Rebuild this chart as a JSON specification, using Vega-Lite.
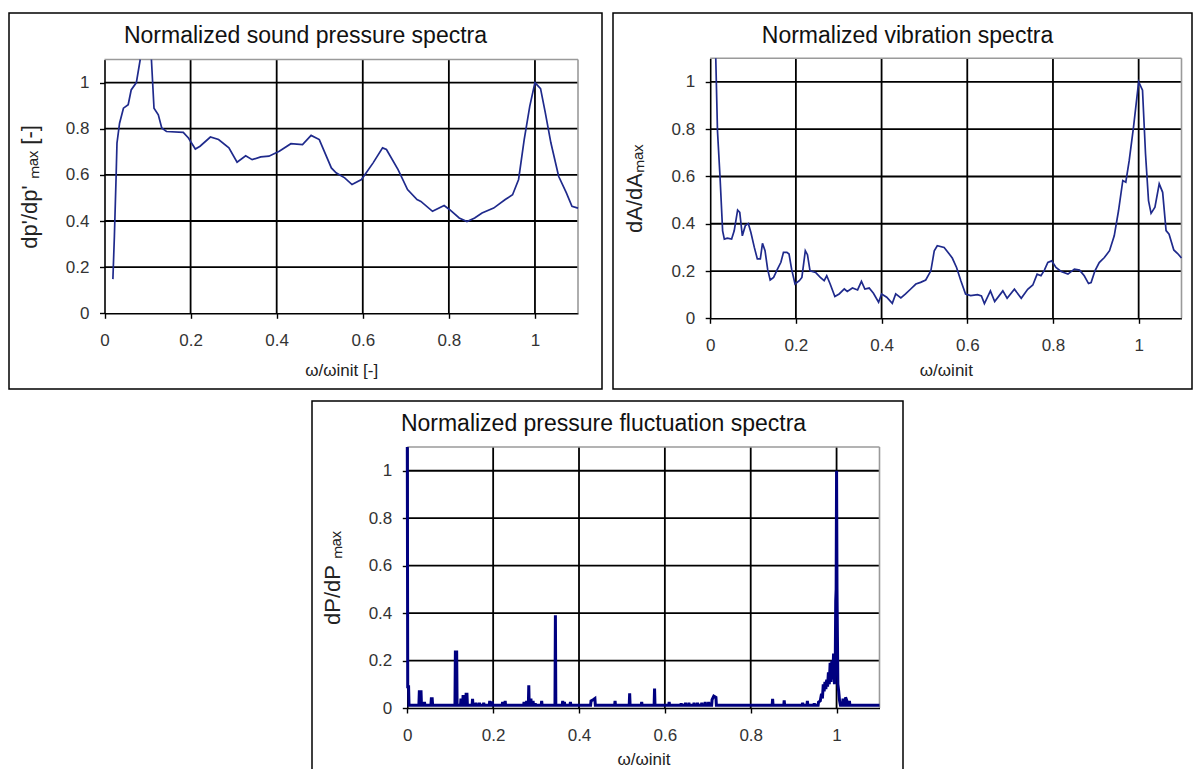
{
  "$schema": "https://vega.github.io/schema/vega-lite/v6.json",
  "padding": {"left": 8, "top": 12, "right": 0, "bottom": 0},
  "background": "#ffffff",
  "config": {
    "font": "Liberation Sans",
    "view": {"stroke": "#000000", "strokeWidth": 1.5},
    "axis": {"grid": false, "domainColor": "#000000", "domainWidth": 1.6, "tickColor": "#000000", "tickWidth": 1.4, "tickSize": 5, "labelFont": "Liberation Sans", "labelFontSize": 17, "labelColor": "#333333", "titleFont": "Liberation Sans", "titleFontWeight": "normal", "titleColor": "#222222", "labelFlush": false},
    "title": {"font": "Liberation Sans", "fontSize": 23, "fontWeight": "normal", "color": "#111111", "anchor": "middle", "frame": "group"}
  },
  "vconcat": [
    {
      "hconcat": [
        {
          "width": 593, "height": 376,
          "title": {"text": "Normalized sound pressure spectra", "offset": -35},
          "layer": [
            {"data": {"values": [{"w": 0.2}, {"w": 0.4}, {"w": 0.6}, {"w": 0.8}, {"w": 1}]},
             "mark": {"type": "rule", "color": "#000000", "strokeWidth": 1.8},
             "encoding": {"x": {"field": "w", "type": "quantitative"}, "y": {"datum": 0, "type": "quantitative"}, "y2": {"datum": 1.1}}},
            {"data": {"values": [{"v": 0.2}, {"v": 0.4}, {"v": 0.6}, {"v": 0.8}, {"v": 1}]},
             "mark": {"type": "rule", "color": "#000000", "strokeWidth": 1.8},
             "encoding": {"y": {"field": "v", "type": "quantitative"}, "x": {"datum": 0, "type": "quantitative"}, "x2": {"datum": 1.1}}},
            {"data": {"values": [{"w": 1.1}]},
             "mark": {"type": "rule", "color": "#9a9a9a", "strokeWidth": 1.6},
             "encoding": {"x": {"field": "w", "type": "quantitative"}, "y": {"datum": 0, "type": "quantitative"}, "y2": {"datum": 1.1}}},
            {"data": {"values": [{"v": 1.1}]},
             "mark": {"type": "rule", "color": "#9a9a9a", "strokeWidth": 1.6},
             "encoding": {"y": {"field": "v", "type": "quantitative"}, "x": {"datum": 0, "type": "quantitative"}, "x2": {"datum": 1.1}}},
            {"data": {"values": [
              {"w": 0.0195, "v": 0.148}, {"w": 0.023, "v": 0.335}, {"w": 0.027, "v": 0.594}, {"w": 0.029, "v": 0.738}, {"w": 0.035, "v": 0.824}, {"w": 0.044, "v": 0.889}, {"w": 0.055, "v": 0.904}, {"w": 0.062, "v": 0.968}, {"w": 0.074, "v": 1.0}, {"w": 0.083, "v": 1.1}, {"w": 0.096, "v": null}, {"w": 0.109, "v": 1.1}, {"w": 0.115, "v": 0.889}, {"w": 0.125, "v": 0.86}, {"w": 0.133, "v": 0.803}, {"w": 0.144, "v": 0.788}, {"w": 0.183, "v": 0.784}, {"w": 0.195, "v": 0.76}, {"w": 0.211, "v": 0.712}, {"w": 0.222, "v": 0.724}, {"w": 0.246, "v": 0.764}, {"w": 0.265, "v": 0.753}, {"w": 0.289, "v": 0.717}, {"w": 0.308, "v": 0.655}, {"w": 0.328, "v": 0.683}, {"w": 0.343, "v": 0.666}, {"w": 0.363, "v": 0.678}, {"w": 0.382, "v": 0.681}, {"w": 0.406, "v": 0.702}, {"w": 0.433, "v": 0.735}, {"w": 0.46, "v": 0.731}, {"w": 0.48, "v": 0.771}, {"w": 0.499, "v": 0.753}, {"w": 0.527, "v": 0.63}, {"w": 0.538, "v": 0.609}, {"w": 0.558, "v": 0.587}, {"w": 0.575, "v": 0.558}, {"w": 0.597, "v": 0.58}, {"w": 0.624, "v": 0.652}, {"w": 0.646, "v": 0.717}, {"w": 0.655, "v": 0.71}, {"w": 0.682, "v": 0.623}, {"w": 0.704, "v": 0.536}, {"w": 0.726, "v": 0.493}, {"w": 0.735, "v": 0.485}, {"w": 0.762, "v": 0.442}, {"w": 0.789, "v": 0.467}, {"w": 0.802, "v": 0.449}, {"w": 0.824, "v": 0.413}, {"w": 0.842, "v": 0.398}, {"w": 0.86, "v": 0.413}, {"w": 0.877, "v": 0.435}, {"w": 0.904, "v": 0.456}, {"w": 0.931, "v": 0.493}, {"w": 0.948, "v": 0.514}, {"w": 0.962, "v": 0.58}, {"w": 0.975, "v": 0.753}, {"w": 0.988, "v": 0.898}, {"w": 1.0, "v": 1.0}, {"w": 1.013, "v": 0.974}, {"w": 1.024, "v": 0.87}, {"w": 1.037, "v": 0.739}, {"w": 1.055, "v": 0.594}, {"w": 1.073, "v": 0.522}, {"w": 1.086, "v": 0.464}, {"w": 1.1, "v": 0.456}
            ]},
             "mark": {"type": "line", "color": "#1f2a8c", "strokeWidth": 1.7},
             "encoding": {
               "x": {"field": "w", "type": "quantitative", "scale": {"domain": [0, 1.1], "range": [95.5, 569], "nice": false, "zero": false},
                     "axis": {"title": "ω/ωinit [-]", "values": [0, 0.2, 0.4, 0.6, 0.8, 1], "format": "~g", "offset": -75.7, "labelPadding": 14, "titlePadding": 14, "titleFontSize": 17}},
               "y": {"field": "v", "type": "quantitative", "scale": {"domain": [0, 1.1], "range": [300.3, 46.5], "nice": false, "zero": false},
                     "axis": {"title": "dp'/dp' ₘₐₓ [-]", "values": [0, 0.2, 0.4, 0.6, 0.8, 1], "format": "~g", "offset": -95.5, "labelPadding": 10.5, "titlePadding": 24, "titleFontSize": 22}}
             }}
          ]
        },
        {
          "width": 579, "height": 376,
          "title": {"text": "Normalized vibration spectra", "offset": -35, "dx": 5},
          "layer": [
            {"data": {"values": [{"w": 0.2}, {"w": 0.4}, {"w": 0.6}, {"w": 0.8}, {"w": 1}]},
             "mark": {"type": "rule", "color": "#000000", "strokeWidth": 1.8},
             "encoding": {"x": {"field": "w", "type": "quantitative"}, "y": {"datum": 0, "type": "quantitative"}, "y2": {"datum": 1.1}}},
            {"data": {"values": [{"v": 0.2}, {"v": 0.4}, {"v": 0.6}, {"v": 0.8}, {"v": 1}]},
             "mark": {"type": "rule", "color": "#000000", "strokeWidth": 1.8},
             "encoding": {"y": {"field": "v", "type": "quantitative"}, "x": {"datum": 0, "type": "quantitative"}, "x2": {"datum": 1.1}}},
            {"data": {"values": [{"w": 1.1}]},
             "mark": {"type": "rule", "color": "#9a9a9a", "strokeWidth": 1.6},
             "encoding": {"x": {"field": "w", "type": "quantitative"}, "y": {"datum": 0, "type": "quantitative"}, "y2": {"datum": 1.1}}},
            {"data": {"values": [{"v": 1.1}]},
             "mark": {"type": "rule", "color": "#9a9a9a", "strokeWidth": 1.6},
             "encoding": {"y": {"field": "v", "type": "quantitative"}, "x": {"datum": 0, "type": "quantitative"}, "x2": {"datum": 1.1}}},
            {"data": {"values": [
              {"w": 0.013, "v": 1.1}, {"w": 0.017, "v": 0.793}, {"w": 0.023, "v": 0.596}, {"w": 0.029, "v": 0.37}, {"w": 0.033, "v": 0.335}, {"w": 0.04, "v": 0.339}, {"w": 0.05, "v": 0.335}, {"w": 0.056, "v": 0.37}, {"w": 0.064, "v": 0.458}, {"w": 0.069, "v": 0.448}, {"w": 0.075, "v": 0.349}, {"w": 0.082, "v": 0.392}, {"w": 0.089, "v": 0.401}, {"w": 0.095, "v": 0.363}, {"w": 0.103, "v": 0.3}, {"w": 0.11, "v": 0.251}, {"w": 0.117, "v": 0.251}, {"w": 0.122, "v": 0.317}, {"w": 0.128, "v": 0.286}, {"w": 0.134, "v": 0.208}, {"w": 0.14, "v": 0.162}, {"w": 0.148, "v": 0.173}, {"w": 0.157, "v": 0.208}, {"w": 0.165, "v": 0.237}, {"w": 0.171, "v": 0.279}, {"w": 0.179, "v": 0.279}, {"w": 0.184, "v": 0.272}, {"w": 0.19, "v": 0.208}, {"w": 0.198, "v": 0.145}, {"w": 0.208, "v": 0.159}, {"w": 0.214, "v": 0.173}, {"w": 0.222, "v": 0.286}, {"w": 0.227, "v": 0.269}, {"w": 0.233, "v": 0.201}, {"w": 0.246, "v": 0.194}, {"w": 0.257, "v": 0.173}, {"w": 0.266, "v": 0.159}, {"w": 0.272, "v": 0.18}, {"w": 0.28, "v": 0.145}, {"w": 0.291, "v": 0.092}, {"w": 0.301, "v": 0.103}, {"w": 0.313, "v": 0.124}, {"w": 0.32, "v": 0.114}, {"w": 0.332, "v": 0.128}, {"w": 0.344, "v": 0.12}, {"w": 0.353, "v": 0.156}, {"w": 0.361, "v": 0.124}, {"w": 0.371, "v": 0.128}, {"w": 0.381, "v": 0.106}, {"w": 0.393, "v": 0.068}, {"w": 0.4, "v": 0.103}, {"w": 0.412, "v": 0.089}, {"w": 0.425, "v": 0.063}, {"w": 0.433, "v": 0.103}, {"w": 0.445, "v": 0.086}, {"w": 0.456, "v": 0.103}, {"w": 0.468, "v": 0.124}, {"w": 0.48, "v": 0.145}, {"w": 0.491, "v": 0.152}, {"w": 0.503, "v": 0.162}, {"w": 0.515, "v": 0.201}, {"w": 0.523, "v": 0.286}, {"w": 0.53, "v": 0.307}, {"w": 0.546, "v": 0.3}, {"w": 0.558, "v": 0.272}, {"w": 0.565, "v": 0.255}, {"w": 0.575, "v": 0.215}, {"w": 0.585, "v": 0.159}, {"w": 0.596, "v": 0.103}, {"w": 0.608, "v": 0.096}, {"w": 0.624, "v": 0.1}, {"w": 0.633, "v": 0.095}, {"w": 0.64, "v": 0.062}, {"w": 0.654, "v": 0.116}, {"w": 0.664, "v": 0.071}, {"w": 0.683, "v": 0.116}, {"w": 0.693, "v": 0.085}, {"w": 0.71, "v": 0.123}, {"w": 0.726, "v": 0.085}, {"w": 0.741, "v": 0.123}, {"w": 0.753, "v": 0.141}, {"w": 0.763, "v": 0.187}, {"w": 0.772, "v": 0.18}, {"w": 0.78, "v": 0.204}, {"w": 0.788, "v": 0.236}, {"w": 0.797, "v": 0.243}, {"w": 0.807, "v": 0.215}, {"w": 0.819, "v": 0.198}, {"w": 0.835, "v": 0.187}, {"w": 0.85, "v": 0.208}, {"w": 0.862, "v": 0.204}, {"w": 0.873, "v": 0.18}, {"w": 0.883, "v": 0.147}, {"w": 0.889, "v": 0.151}, {"w": 0.898, "v": 0.201}, {"w": 0.908, "v": 0.236}, {"w": 0.92, "v": 0.257}, {"w": 0.932, "v": 0.286}, {"w": 0.943, "v": 0.349}, {"w": 0.953, "v": 0.455}, {"w": 0.963, "v": 0.583}, {"w": 0.97, "v": 0.576}, {"w": 0.978, "v": 0.668}, {"w": 0.988, "v": 0.809}, {"w": 1.0, "v": 1.0}, {"w": 1.009, "v": 0.965}, {"w": 1.016, "v": 0.696}, {"w": 1.023, "v": 0.498}, {"w": 1.029, "v": 0.444}, {"w": 1.038, "v": 0.47}, {"w": 1.048, "v": 0.569}, {"w": 1.056, "v": 0.533}, {"w": 1.064, "v": 0.371}, {"w": 1.071, "v": 0.356}, {"w": 1.082, "v": 0.289}, {"w": 1.091, "v": 0.274}, {"w": 1.1, "v": 0.255}
            ]},
             "mark": {"type": "line", "color": "#1f2a8c", "strokeWidth": 1.7},
             "encoding": {
               "x": {"field": "w", "type": "quantitative", "scale": {"domain": [0, 1.1], "range": [97.2, 568.5], "nice": false, "zero": false},
                     "axis": {"title": "ω/ωinit", "values": [0, 0.2, 0.4, 0.6, 0.8, 1], "format": "~g", "offset": -70.7, "labelPadding": 14, "titlePadding": 9, "titleFontSize": 17}},
               "y": {"field": "v", "type": "quantitative", "scale": {"domain": [0, 1.1], "range": [305.3, 45.3], "nice": false, "zero": false},
                     "axis": {"title": "dA/dAₘₐₓ", "values": [0, 0.2, 0.4, 0.6, 0.8, 1], "format": "~g", "offset": -97.2, "labelPadding": 10.5, "titlePadding": 25, "titleFontSize": 22}}
             }}
          ]
        }
      ],
      "spacing": 9
    },
    {
      "hconcat": [
        {"width": 292, "height": 378, "data": {"values": []}, "mark": "point", "view": {"stroke": null}},
        {
          "width": 591, "height": 378,
          "title": {"text": "Normalized pressure fluctuation spectra", "offset": -35, "dx": -4},
          "layer": [
            {"data": {"values": [{"w": 0.2}, {"w": 0.4}, {"w": 0.6}, {"w": 0.8}, {"w": 1}]},
             "mark": {"type": "rule", "color": "#000000", "strokeWidth": 1.8},
             "encoding": {"x": {"field": "w", "type": "quantitative"}, "y": {"datum": 0, "type": "quantitative"}, "y2": {"datum": 1.1}}},
            {"data": {"values": [{"v": 0.2}, {"v": 0.4}, {"v": 0.6}, {"v": 0.8}, {"v": 1}]},
             "mark": {"type": "rule", "color": "#000000", "strokeWidth": 1.8},
             "encoding": {"y": {"field": "v", "type": "quantitative"}, "x": {"datum": 0, "type": "quantitative"}, "x2": {"datum": 1.1}}},
            {"data": {"values": [{"w": 1.1}]},
             "mark": {"type": "rule", "color": "#9a9a9a", "strokeWidth": 1.6},
             "encoding": {"x": {"field": "w", "type": "quantitative"}, "y": {"datum": 0, "type": "quantitative"}, "y2": {"datum": 1.1}}},
            {"data": {"values": [{"v": 1.1}]},
             "mark": {"type": "rule", "color": "#9a9a9a", "strokeWidth": 1.6},
             "encoding": {"y": {"field": "v", "type": "quantitative"}, "x": {"datum": 0, "type": "quantitative"}, "x2": {"datum": 1.1}}},
            {"data": {"values": [
              {"w": 0, "v": 1.1}, {"w": 0.001, "v": 0.09}, {"w": 0.003, "v": 0.09}, {"w": 0.004, "v": 0.012},
              {"w": 0.027, "v": 0.012}, {"w": 0.028, "v": 0.068}, {"w": 0.032, "v": 0.068}, {"w": 0.033, "v": 0.012},
              {"w": 0.039, "v": 0.012}, {"w": 0.04, "v": 0.025}, {"w": 0.041, "v": 0.012},
              {"w": 0.055, "v": 0.012}, {"w": 0.056, "v": 0.039}, {"w": 0.058, "v": 0.039}, {"w": 0.059, "v": 0.012},
              {"w": 0.111, "v": 0.012}, {"w": 0.112, "v": 0.236}, {"w": 0.115, "v": 0.236}, {"w": 0.116, "v": 0.012},
              {"w": 0.124, "v": 0.012}, {"w": 0.125, "v": 0.04}, {"w": 0.126, "v": 0.012},
              {"w": 0.129, "v": 0.012}, {"w": 0.13, "v": 0.055}, {"w": 0.131, "v": 0.012},
              {"w": 0.136, "v": 0.012}, {"w": 0.137, "v": 0.058}, {"w": 0.139, "v": 0.058}, {"w": 0.14, "v": 0.012},
              {"w": 0.151, "v": 0.012}, {"w": 0.152, "v": 0.039}, {"w": 0.153, "v": 0.012},
              {"w": 0.159, "v": 0.012}, {"w": 0.16, "v": 0.022}, {"w": 0.161, "v": 0.012},
              {"w": 0.167, "v": 0.012}, {"w": 0.168, "v": 0.022}, {"w": 0.169, "v": 0.012},
              {"w": 0.177, "v": 0.012}, {"w": 0.178, "v": 0.022}, {"w": 0.179, "v": 0.012},
              {"w": 0.191, "v": 0.012}, {"w": 0.192, "v": 0.03}, {"w": 0.193, "v": 0.012},
              {"w": 0.197, "v": 0.012}, {"w": 0.198, "v": 0.028}, {"w": 0.199, "v": 0.012},
              {"w": 0.221, "v": 0.012}, {"w": 0.222, "v": 0.025}, {"w": 0.223, "v": 0.012},
              {"w": 0.227, "v": 0.012}, {"w": 0.228, "v": 0.03}, {"w": 0.229, "v": 0.012},
              {"w": 0.271, "v": 0.012}, {"w": 0.272, "v": 0.025}, {"w": 0.273, "v": 0.012},
              {"w": 0.277, "v": 0.012}, {"w": 0.278, "v": 0.03}, {"w": 0.279, "v": 0.012},
              {"w": 0.282, "v": 0.012}, {"w": 0.283, "v": 0.096}, {"w": 0.284, "v": 0.012},
              {"w": 0.287, "v": 0.012}, {"w": 0.288, "v": 0.04}, {"w": 0.289, "v": 0.012},
              {"w": 0.292, "v": 0.012}, {"w": 0.293, "v": 0.03}, {"w": 0.294, "v": 0.012},
              {"w": 0.297, "v": 0.012}, {"w": 0.298, "v": 0.02}, {"w": 0.299, "v": 0.012},
              {"w": 0.312, "v": 0.012}, {"w": 0.313, "v": 0.03}, {"w": 0.314, "v": 0.012},
              {"w": 0.344, "v": 0.012}, {"w": 0.345, "v": 0.391}, {"w": 0.346, "v": 0.012},
              {"w": 0.361, "v": 0.012}, {"w": 0.362, "v": 0.03}, {"w": 0.363, "v": 0.012},
              {"w": 0.365, "v": 0.012}, {"w": 0.366, "v": 0.025}, {"w": 0.367, "v": 0.012},
              {"w": 0.379, "v": 0.012}, {"w": 0.38, "v": 0.025}, {"w": 0.381, "v": 0.012},
              {"w": 0.427, "v": 0.012}, {"w": 0.428, "v": 0.03}, {"w": 0.433, "v": 0.035}, {"w": 0.437, "v": 0.04}, {"w": 0.438, "v": 0.012},
              {"w": 0.483, "v": 0.012}, {"w": 0.484, "v": 0.03}, {"w": 0.485, "v": 0.012},
              {"w": 0.517, "v": 0.012}, {"w": 0.518, "v": 0.062}, {"w": 0.519, "v": 0.012},
              {"w": 0.545, "v": 0.012}, {"w": 0.546, "v": 0.025}, {"w": 0.547, "v": 0.012},
              {"w": 0.575, "v": 0.012}, {"w": 0.576, "v": 0.082}, {"w": 0.577, "v": 0.012},
              {"w": 0.609, "v": 0.012}, {"w": 0.61, "v": 0.025}, {"w": 0.611, "v": 0.012},
              {"w": 0.637, "v": 0.012}, {"w": 0.638, "v": 0.02}, {"w": 0.639, "v": 0.012},
              {"w": 0.647, "v": 0.012}, {"w": 0.648, "v": 0.022}, {"w": 0.649, "v": 0.012},
              {"w": 0.655, "v": 0.012}, {"w": 0.656, "v": 0.022}, {"w": 0.657, "v": 0.012},
              {"w": 0.667, "v": 0.012}, {"w": 0.668, "v": 0.022}, {"w": 0.669, "v": 0.012},
              {"w": 0.675, "v": 0.012}, {"w": 0.676, "v": 0.022}, {"w": 0.677, "v": 0.012},
              {"w": 0.685, "v": 0.012}, {"w": 0.686, "v": 0.022}, {"w": 0.687, "v": 0.012},
              {"w": 0.693, "v": 0.012}, {"w": 0.694, "v": 0.025}, {"w": 0.695, "v": 0.012},
              {"w": 0.701, "v": 0.012}, {"w": 0.702, "v": 0.025}, {"w": 0.703, "v": 0.012},
              {"w": 0.709, "v": 0.012}, {"w": 0.71, "v": 0.035}, {"w": 0.714, "v": 0.05}, {"w": 0.719, "v": 0.045}, {"w": 0.72, "v": 0.012},
              {"w": 0.85, "v": 0.012}, {"w": 0.851, "v": 0.039}, {"w": 0.852, "v": 0.012},
              {"w": 0.877, "v": 0.012}, {"w": 0.878, "v": 0.032}, {"w": 0.879, "v": 0.012},
              {"w": 0.92, "v": 0.012}, {"w": 0.921, "v": 0.022}, {"w": 0.922, "v": 0.012},
              {"w": 0.931, "v": 0.012}, {"w": 0.932, "v": 0.03}, {"w": 0.933, "v": 0.012},
              {"w": 0.947, "v": 0.012}, {"w": 0.948, "v": 0.02}, {"w": 0.949, "v": 0.012},
              {"w": 0.957, "v": 0.012}, {"w": 0.958, "v": 0.025},
              {"w": 0.962, "v": 0.03}, {"w": 0.965, "v": 0.06}, {"w": 0.967, "v": 0.04}, {"w": 0.969, "v": 0.1}, {"w": 0.971, "v": 0.07}, {"w": 0.973, "v": 0.11}, {"w": 0.975, "v": 0.08}, {"w": 0.977, "v": 0.12}, {"w": 0.979, "v": 0.09}, {"w": 0.981, "v": 0.15}, {"w": 0.983, "v": 0.1}, {"w": 0.985, "v": 0.19}, {"w": 0.987, "v": 0.11}, {"w": 0.989, "v": 0.2}, {"w": 0.991, "v": 0.12}, {"w": 0.993, "v": 0.23}, {"w": 0.995, "v": 0.1}, {"w": 0.997, "v": 0.2}, {"w": 0.998, "v": 0.45}, {"w": 0.999, "v": 0.5}, {"w": 1.0, "v": 1.0}, {"w": 1.001, "v": 0.5}, {"w": 1.002, "v": 0.3}, {"w": 1.003, "v": 0.1}, {"w": 1.005, "v": 0.07}, {"w": 1.007, "v": 0.03}, {"w": 1.009, "v": 0.012},
              {"w": 1.014, "v": 0.012}, {"w": 1.015, "v": 0.04}, {"w": 1.016, "v": 0.012},
              {"w": 1.02, "v": 0.012}, {"w": 1.021, "v": 0.045}, {"w": 1.024, "v": 0.03}, {"w": 1.025, "v": 0.012},
              {"w": 1.029, "v": 0.012}, {"w": 1.03, "v": 0.03}, {"w": 1.031, "v": 0.012},
              {"w": 1.1, "v": 0.012}
            ]},
             "mark": {"type": "line", "color": "#000080", "strokeWidth": 3},
             "encoding": {
               "x": {"field": "w", "type": "quantitative", "scale": {"domain": [0, 1.1], "range": [95.3, 567.5], "nice": false, "zero": false},
                     "axis": {"title": "ω/ωinit", "values": [0, 0.2, 0.4, 0.6, 0.8, 1], "format": "~g", "offset": -71, "labelPadding": 14, "titlePadding": 8, "titleFontSize": 17}},
               "y": {"field": "v", "type": "quantitative", "scale": {"domain": [0, 1.1], "range": [307, 46], "nice": false, "zero": false},
                     "axis": {"title": "dP/dP ₘₐₓ", "values": [0, 0.2, 0.4, 0.6, 0.8, 1], "format": "~g", "offset": -95.3, "labelPadding": 10.5, "titlePadding": 24, "titleFontSize": 22}}
             }}
          ]
        }
      ],
      "spacing": 10
    }
  ],
  "spacing": 10
}
